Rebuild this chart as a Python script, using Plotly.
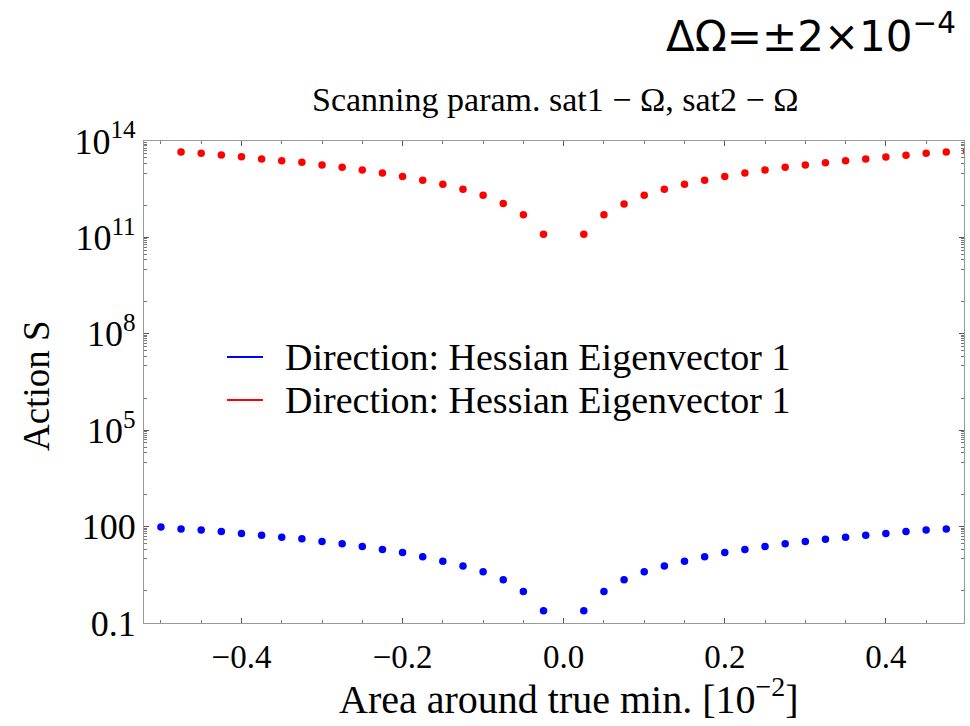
import numpy as np
import plotly.graph_objects as go

# Scan coordinate (units of 1e-2) and log10 of the action along each direction
x_blue = [-0.5, -0.475, -0.45, -0.425, -0.4, -0.375, -0.35, -0.325, -0.3, -0.275,
          -0.25, -0.225, -0.2, -0.175, -0.15, -0.125, -0.1, -0.075, -0.05, -0.025,
          0.025, 0.05, 0.075, 0.1, 0.125, 0.15, 0.175, 0.2, 0.225, 0.25,
          0.275, 0.3, 0.325, 0.35, 0.375, 0.4, 0.425, 0.45, 0.475]
log_s_blue = [1.991, 1.929, 1.898, 1.846, 1.784, 1.733, 1.671, 1.618, 1.537, 1.463,
              1.382, 1.289, 1.196, 1.059, 0.925, 0.770, 0.593, 0.345, -0.016, -0.618,
              -0.618, -0.016, 0.345, 0.593, 0.770, 0.925, 1.059, 1.196, 1.289, 1.382,
              1.463, 1.537, 1.609, 1.671, 1.733, 1.784, 1.846, 1.898, 1.929]

x_red = [-0.475, -0.45, -0.425, -0.4, -0.375, -0.35, -0.325, -0.3, -0.275,
         -0.25, -0.225, -0.2, -0.175, -0.15, -0.125, -0.1, -0.075, -0.05, -0.025,
         0.025, 0.05, 0.075, 0.1, 0.125, 0.15, 0.175, 0.2, 0.225, 0.25,
         0.275, 0.3, 0.325, 0.35, 0.375, 0.4, 0.425, 0.45, 0.475, 0.5]
log_s_red = [13.658, 13.617, 13.565, 13.513, 13.441, 13.389, 13.338, 13.255, 13.182,
             13.099, 13.006, 12.892, 12.779, 12.655, 12.500, 12.314, 12.053, 11.702, 11.100,
             11.100, 11.702, 12.040, 12.314, 12.500, 12.655, 12.779, 12.892, 13.006, 13.099,
             13.182, 13.255, 13.326, 13.389, 13.441, 13.503, 13.555, 13.617, 13.658, 13.700]

legend_labels = ["Direction: Hessian Eigenvector 1", "Direction: Hessian Eigenvector 1"]

y_tick_vals = [0.1, 100, 1e5, 1e8, 1e11, 1e14]
y_tick_text = ["0.1", "100", "10<sup>5</sup>", "10<sup>8</sup>", "10<sup>11</sup>", "10<sup>14</sup>"]
x_tick_vals = [-0.4, -0.2, 0.0, 0.2, 0.4]
x_tick_text = ["\u22120.4", "\u22120.2", "0.0", "0.2", "0.4"]

BLUE = "#0000ff"
RED = "#ff0000"
SERIF = "Liberation Serif, Times New Roman, serif"

# minor ticks: 2..9 x 10^(n-1) below each labelled decade, plus every 0.05 on x
y_minor = [k * 10.0 ** (e - 1) for e in [2, 5, 8, 11, 14] for k in range(2, 10)]
y_minor += [10.0 ** e for e in [0, 1, 3, 4, 6, 7, 9, 10, 12, 13]]
x_minor = [round(v, 2) for v in np.arange(-0.5, 0.51, 0.05)]

fig = go.Figure()
fig.add_trace(go.Scatter(
    x=x_blue, y=[10 ** v for v in log_s_blue], mode="markers", name=legend_labels[0],
    marker=dict(color=BLUE, size=7.5), showlegend=False, cliponaxis=True))
fig.add_trace(go.Scatter(
    x=x_red, y=[10 ** v for v in log_s_red], mode="markers", name=legend_labels[1],
    marker=dict(color=RED, size=7.5), showlegend=False, cliponaxis=True))

axis_common = dict(
    showline=True, linecolor="#9a9a9a", linewidth=1.2, mirror="allticks",
    ticks="inside", tickcolor="#555555", ticklen=5, tickwidth=1,
    showgrid=False, zeroline=False,
)

fig.update_xaxes(range=[-0.521, 0.497], tickmode="array", tickvals=x_tick_vals,
                 ticktext=x_tick_text, ticklabelstandoff=4,
                 tickfont=dict(family=SERIF, size=33, color="black"),
                 minor=dict(tickmode="array", tickvals=x_minor, ticks="inside",
                            ticklen=3, tickcolor="#777777"),
                 **axis_common)
fig.update_yaxes(type="log", range=[-1, 14], tickmode="array", tickvals=y_tick_vals,
                 ticktext=y_tick_text,
                 tickfont=dict(family=SERIF, size=36, color="black"),
                 minor=dict(tickmode="array", tickvals=y_minor, ticks="inside",
                            ticklen=3, tickcolor="#777777"),
                 **axis_common)

# legend key: short line samples with labels, placed inside the frame
legend_rows_y = [0.552, 0.4627]
shapes = []
legend_ann = []
for label, col, yy in zip(legend_labels, [BLUE, RED], legend_rows_y):
    shapes.append(dict(type="line", xref="paper", yref="paper",
                       x0=0.1012, x1=0.1451, y0=yy, y1=yy,
                       line=dict(color=col, width=2)))
    legend_ann.append(dict(text=label, xref="paper", yref="paper", x=0.1695, y=yy,
                           xanchor="left", yanchor="middle", showarrow=False,
                           font=dict(family=SERIF, size=38, color="black")))

fig.update_layout(
    width=970, height=726,
    margin=dict(l=144, r=6, t=141, b=103),
    paper_bgcolor="white", plot_bgcolor="white",
    showlegend=False,
    shapes=shapes,
    annotations=[
        dict(text="Scanning param. sat1 \u2212 \u03a9, sat2 \u2212 \u03a9",
             xref="paper", yref="paper", x=0.501, y=1.087, showarrow=False,
             xanchor="center", yanchor="middle",
             font=dict(family=SERIF, size=34, color="black")),
        dict(text="\u0394\u03a9=\u00b12\u00d710<sup>\u22124</sup>",
             xref="paper", yref="paper", x=0.813, y=1.222, showarrow=False,
             xanchor="center", yanchor="middle",
             font=dict(family="DejaVu Sans, sans-serif", size=42, color="black")),
        dict(text="Area around true min. [10<sup>\u22122</sup>]",
             xref="paper", yref="paper", x=0.5177, y=-0.153, showarrow=False,
             xanchor="center", yanchor="middle",
             font=dict(family=SERIF, size=40, color="black")),
        dict(text="Action S", textangle=-90,
             xref="paper", yref="paper", x=-0.1305, y=0.494, showarrow=False,
             xanchor="center", yanchor="middle",
             font=dict(family=SERIF, size=37, color="black")),
    ] + legend_ann,
)

fig.write_html("out.html")
